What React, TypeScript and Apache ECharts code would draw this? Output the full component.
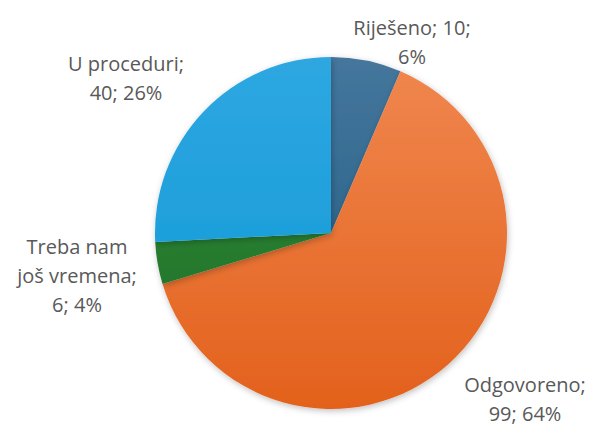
import React, { useEffect, useRef } from "react";
import * as echarts from "echarts";

const categories = ["Riješeno", "Odgovoreno", "Treba nam\njoš vremena", "U proceduri"];
const values = [10, 99, 6, 40];
const percents = ["6%", "64%", "4%", "26%"];
const labelTexts = ["Riješeno; 10;\n6%", "Odgovoreno;\n99; 64%", "Treba nam\njoš vremena;\n6; 4%", "U proceduri;\n40; 26%"];

const colorsTop = ["#45769c", "#f0874f", "#2f8a3a", "#2ea7e1"];
const colorsBottom = ["#1c5a80", "#e3611c", "#1e6e26", "#0f98d6"];
const labelPos = [[412, 42], [525, 399], [77, 275], [126, 78]];

export default function App() {
  const ref = useRef<HTMLDivElement>(null);
  useEffect(() => {
    const chart = echarts.init(ref.current!, null, { renderer: "svg" });
    chart.setOption({
      animation: false,
      backgroundColor: "#ffffff",
      series: [
        {
          type: "pie",
          center: [331, 233],
          radius: [0, 176],
          startAngle: 90,
          clockwise: true,
          avoidLabelOverlap: false,
          data: categories.map((c, i) => ({
            name: c,
            value: values[i],
            itemStyle: {
              color: new echarts.graphic.LinearGradient(0, 57, 0, 410, [
                { offset: 0, color: colorsTop[i] },
                { offset: 1, color: colorsBottom[i] },
              ], true),
            },
            label: { formatter: labelTexts[i] },
          })),
          itemStyle: {
            borderWidth: 0,
            shadowBlur: 6,
            shadowColor: "rgba(0,0,0,0.25)",
            shadowOffsetX: 1,
            shadowOffsetY: 2,
          },
          label: {
            show: true,
            position: "outside",
            color: "#595959",
            fontSize: 20,
            lineHeight: 29,
            fontFamily: "Open Sans, sans-serif",
            align: "center",
          },
          labelLine: { show: false },
          labelLayout: (params: any) => ({
            x: labelPos[params.dataIndex][0],
            y: labelPos[params.dataIndex][1],
            align: "center",
            verticalAlign: "middle",
          }),
        },
      ],
    });
    return () => chart.dispose();
  }, []);
  return (
    <div
      ref={ref}
      style={{ position: "fixed", left: 0, top: 0, width: 590, height: 429 }}
    />
  );
}
